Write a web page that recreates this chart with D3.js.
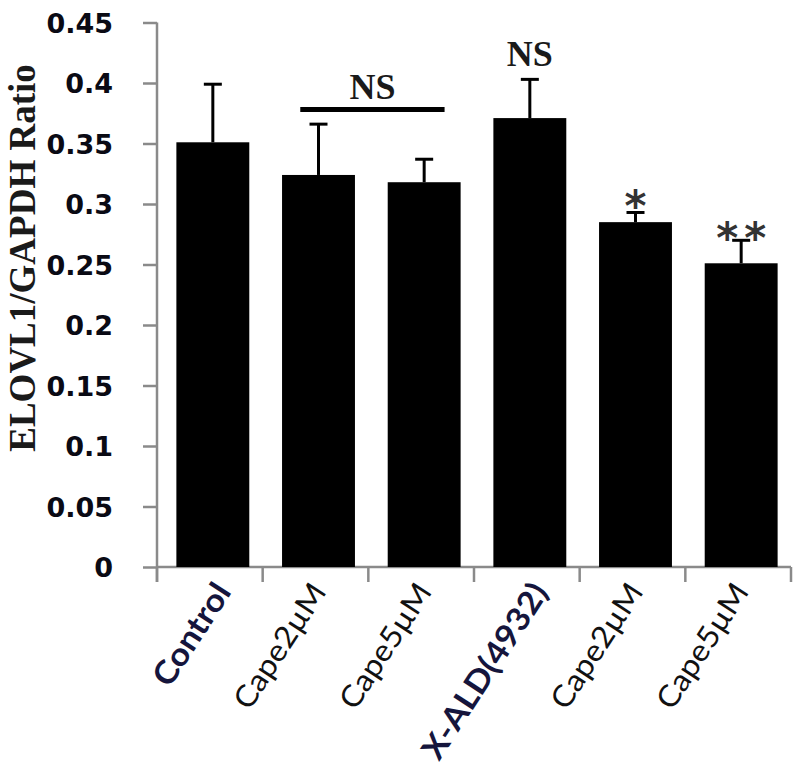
<!DOCTYPE html>
<html><head><meta charset="utf-8">
<script src="https://cdn.jsdelivr.net/npm/d3@7"></script>
<style>body{margin:0;background:#fff}svg{display:block}</style>
</head><body>
<svg id="chart" width="800" height="784"></svg>
<script>
const categories = ["Control","Cape2µM","Cape5µM","X-ALD(4932)","Cape2µM","Cape5µM"];
const boldLabels = [true,false,false,true,false,false];
const means = [0.351,0.324,0.318,0.371,0.285,0.251];
const errors = [0.048,0.042,0.019,0.032,0.008,0.019];
const yTicks = [0,0.05,0.1,0.15,0.2,0.25,0.3,0.35,0.4,0.45];
const yTickLabels = ["0","0.05","0.1","0.15","0.2","0.25","0.3","0.35","0.4","0.45"];
const yTitle = "ELOVL1/GAPDH Ratio";
const annotations = [
  {type:"bracket", from:1, to:2, value:0.378, label:"NS", labelValue:0.387},
  {type:"text", at:3, labelValue:0.414, label:"NS"},
  {type:"star", at:4, labelValue:0.3075, label:"*", count:1},
  {type:"star", at:5, labelValue:0.281, label:"*", count:2}
];

const svg = d3.select("#chart");
const x0 = 157, x1 = 791, yBase = 567, yTop = 22.5;
const y = d3.scaleLinear().domain([0,0.45]).range([yBase,yTop]);
const x = d3.scaleBand().domain(d3.range(categories.length)).range([x0,x1]).padding(0);
const bw = x.bandwidth()*0.69;
const cx = i => x(i) + x.bandwidth()/2 + 3;

// y axis
const yAxis = svg.append("g").attr("transform",`translate(${x0},0)`)
  .call(d3.axisLeft(y).tickValues(yTicks).tickFormat((d,i)=>yTickLabels[i]).tickSize(14).tickPadding(30));
yAxis.select(".domain").attr("stroke","#8a8a8a").attr("stroke-width",2.5).attr("d",`M0,${yTop}V${yBase+15}`);
yAxis.selectAll(".tick line").attr("stroke","#8a8a8a").attr("stroke-width",2.5);
yAxis.selectAll(".tick text").attr("font-family","DejaVu Sans").attr("font-weight","bold")
  .attr("font-size",27).attr("fill","#0a0a14").attr("dy","0.36em");

// x axis
const xAxis = svg.append("g").attr("transform",`translate(0,${yBase})`);
xAxis.append("line").attr("x1",x0).attr("x2",x1).attr("stroke","#8a8a8a").attr("stroke-width",2.5);
const bounds = d3.range(categories.length+1).map(i => i<categories.length ? x(i) : x1);
xAxis.selectAll("line.t").data(bounds).join("line").attr("class","t")
  .attr("x1",d=>d).attr("x2",d=>d).attr("y1",0).attr("y2",15)
  .attr("stroke","#8a8a8a").attr("stroke-width",2.5);

// bars
svg.append("g").selectAll("rect").data(means).join("rect")
  .attr("x",(d,i)=>cx(i)-bw/2).attr("width",bw)
  .attr("y",d=>y(d)).attr("height",d=>yBase-y(d)).attr("fill","#000");

// error bars
const eb = svg.append("g").attr("stroke","#000").attr("stroke-width",3);
eb.selectAll("line.s").data(means).join("line").attr("class","s")
  .attr("x1",(d,i)=>cx(i)).attr("x2",(d,i)=>cx(i))
  .attr("y1",d=>y(d)).attr("y2",(d,i)=>y(d+errors[i]));
eb.selectAll("line.c").data(means).join("line").attr("class","c")
  .attr("x1",(d,i)=>cx(i)-9).attr("x2",(d,i)=>cx(i)+9)
  .attr("y1",(d,i)=>y(d+errors[i])).attr("y2",(d,i)=>y(d+errors[i]));

// x labels
const xl = svg.append("g");
categories.forEach((c,i)=>{
  const tx = cx(i) + (boldLabels[i] ? 10 : 0);
  const ty = yBase + 19;
  xl.append("text").text(c)
    .attr("transform",`translate(${tx},${ty}) rotate(-57) scale(1.08,1)`)
    .attr("text-anchor","end").attr("dy","0.35em")
    .attr("font-family","Lato, 'Open Sans', sans-serif")
    .attr("font-weight", boldLabels[i] ? "bold" : "normal")
    .attr("font-size", boldLabels[i] ? 32 : 30)
    .attr("fill", boldLabels[i] ? "#15153c" : "#111");
});

// y title
svg.append("text").text(yTitle)
  .attr("transform",`translate(35,258) rotate(-90)`)
  .attr("text-anchor","middle")
  .attr("font-family","'Liberation Serif', 'Times New Roman', serif")
  .attr("font-weight","bold").attr("font-size",37).attr("fill","#1a1a1a");

// annotations
const an = svg.append("g");
annotations.forEach(a=>{
  if(a.type==="bracket"){
    const xa = cx(a.from)-bw*0.25, xb = cx(a.to)+bw*0.28;
    an.append("line").attr("x1",xa).attr("x2",xb).attr("y1",y(a.value)).attr("y2",y(a.value))
      .attr("stroke","#000").attr("stroke-width",5);
    an.append("text").text(a.label).attr("x",(xa+xb)/2).attr("y",y(a.labelValue))
      .attr("text-anchor","middle").attr("font-family","'Liberation Serif', serif")
      .attr("font-weight","bold").attr("font-size",36).attr("fill","#1a1a1a");
  } else if(a.type==="text"){
    an.append("text").text(a.label).attr("x",cx(a.at)).attr("y",y(a.labelValue))
      .attr("text-anchor","middle").attr("font-family","'Liberation Serif', serif")
      .attr("font-weight","bold").attr("font-size",36).attr("fill","#1a1a1a");
  } else {
    const offs = a.count===1 ? [0] : [-14,14];
    offs.forEach(o=>{
      an.append("text").text(a.label).attr("x",cx(a.at)+o).attr("y",y(a.labelValue))
        .attr("text-anchor","middle").attr("dy","0.62em")
        .attr("font-family","'DejaVu Sans', sans-serif")
        .attr("font-weight","bold").attr("font-size",42).attr("fill","#333");
    });
  }
});
</script>
</body></html>
